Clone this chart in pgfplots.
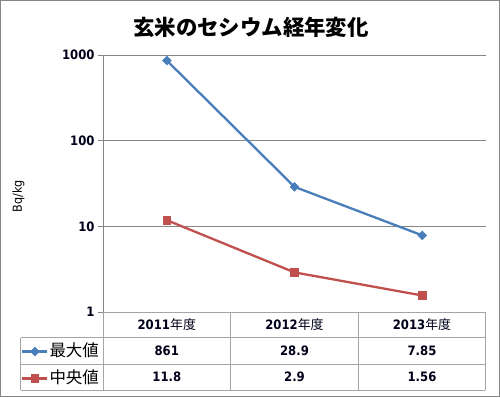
\documentclass[border=0pt]{standalone}
\usepackage{pgfplots}
\pgfplotsset{compat=1.18}
\usepackage{fontspec}
\setmainfont{DejaVu Sans Condensed}
\newfontfamily\cjk{Noto Sans CJK JP}
\definecolor{blueS}{RGB}{74,126,187}
\definecolor{redS}{RGB}{192,80,77}
\definecolor{gridc}{RGB}{134,134,134}
\definecolor{tabc}{RGB}{165,165,165}
\begin{document}
\begin{tikzpicture}[x=1bp,y=1bp]
\useasboundingbox (-103,-85) rectangle (397,312);
\draw[gridc, line width=1.2bp] (-102.4,-84.4) rectangle (396.4,311.4);
\begin{axis}[at={(0,0)}, anchor=south west, scale only axis,
  width=383bp, height=257bp,
  xmin=-0.5, xmax=2.5, ymode=log, ymin=1, ymax=1000,
  axis line style={draw=none},
  xtick=\empty,
  ytick={1,10,100,1000}, yticklabels={1,10,100,1000},
  yminorticks=false, ytick pos=left, tick align=outside,
  major tick length=5bp,
  ytick style={gridc, line width=0.8bp},
  ymajorgrids, major grid style={gridc, line width=0.8bp},
  /pgf/number format/assume math mode=true,
  yticklabel style={font=\bfseries\fontsize{13}{13}\selectfont, text=black!90!blue},
  clip=false,
  legend style={draw=none, fill=none, at={(axis description cs:-0.214,-0.118)}, anchor=north west,
    inner sep=0pt, row sep=9bp,
    nodes={font=\cjk\fontsize{16.5}{16.5}\selectfont, text height=13bp, text depth=3bp, inner sep=1bp}},
  legend cell align=left,
  legend image code/.code={\draw[mark repeat=2,mark phase=2,#1] plot coordinates {(0bp,0bp) (12.5bp,0bp) (25bp,0bp)};},
]
\addplot[blueS, line width=2.3bp, mark=square*, mark size=3.1bp, mark options={fill=blueS, line width=0.5bp, rotate=45}]
  coordinates {(0,861) (1,28.9) (2,7.85)};
\addlegendentry{最大値}
\addplot[redS, line width=2.3bp, mark=square*, mark size=3.8bp, mark options={fill=redS, line width=0.5bp}]
  coordinates {(0,11.8) (1,2.9) (2,1.56)};
\addlegendentry{中央値}
\end{axis}
\draw[gridc, line width=0.8bp] (0,0) -- (0,257);
\begin{scope}[tabc, line width=0.8bp]
\draw (0,0) -- (382,0);
\draw (-82.3,-25.7) -- (382,-25.7);
\draw (-82.3,-52) -- (382,-52);
\draw (-82.3,-78) -- (382,-78);
\draw (-82.3,-25.7) -- (-82.3,-78);
\draw (0,0) -- (0,-78);
\draw (127.3,0) -- (127.3,-78);
\draw (255,0) -- (255,-78);
\draw (382,0) -- (382,-78);
\end{scope}
\node[font=\cjk\bfseries\fontsize{21.5}{21.5}\selectfont] at (148,285) {玄米のセシウム経年変化};
\node[rotate=90, font=\fontsize{12.5}{12.5}\selectfont] at (-84.5,116) {Bq/kg};
\begin{scope}[every node/.style={font=\bfseries\fontsize{13}{13}\selectfont, text=black!90!blue}]
\node at (63.8,-13) {2011{\cjk\mdseries 年度}};
\node at (191.5,-13) {2012{\cjk\mdseries 年度}};
\node at (319,-13) {2013{\cjk\mdseries 年度}};
\node at (63.8,-39) {861};
\node at (191.5,-39) {28.9};
\node at (319,-39) {7.85};
\node at (63.8,-65) {11.8};
\node at (191.5,-65) {2.9};
\node at (319,-65) {1.56};
\end{scope}
\end{tikzpicture}
\end{document}
